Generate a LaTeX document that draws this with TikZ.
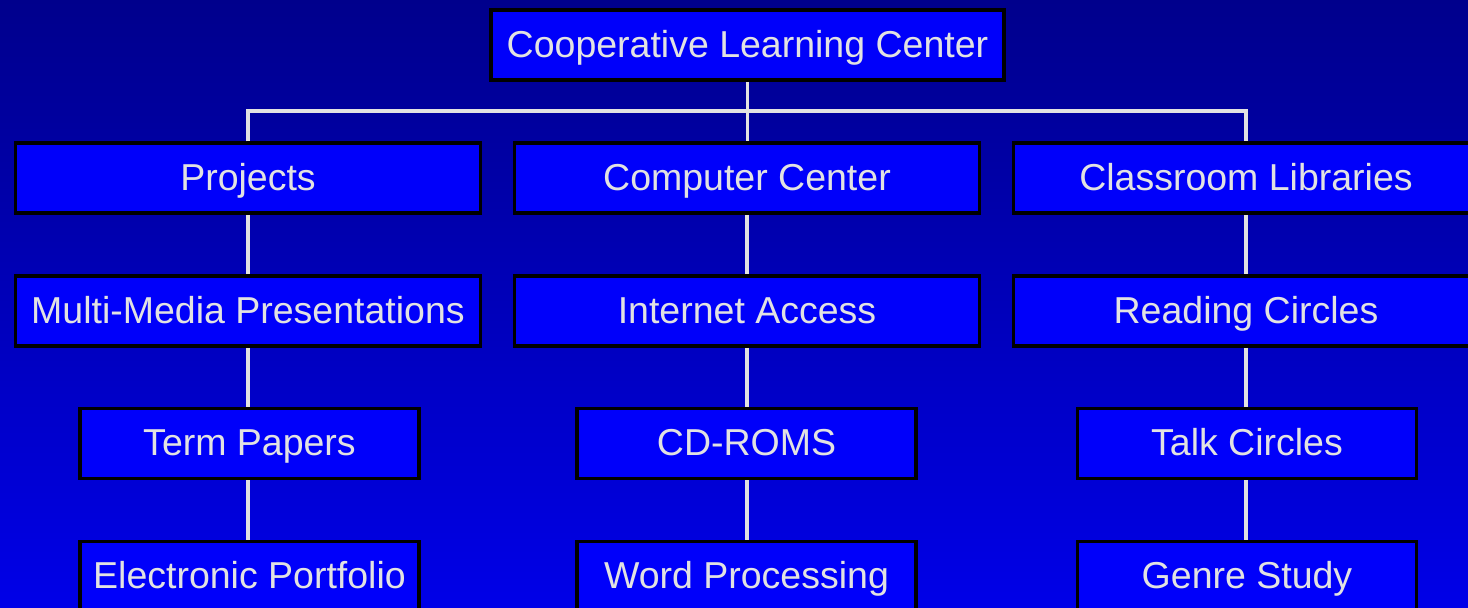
\documentclass[tikz,border=0pt]{standalone}
\usepackage{fontspec}
\setmainfont{Liberation Sans}
\definecolor{bgtop}{RGB}{0,0,140}
\definecolor{bgbot}{RGB}{0,0,232}
\definecolor{boxblue}{RGB}{0,0,250}
\definecolor{txt}{RGB}{226,226,226}
\tikzset{
  ocbox/.style={draw=black, line width=3.5pt, fill=boxblue, text=txt,
    inner sep=0pt, minimum height=70pt, text height=28pt, text depth=4pt,
    font=\fontsize{37.5}{42}\selectfont},
  widebox/.style={ocbox, minimum width=465pt},
  narrowbox/.style={ocbox, minimum width=339pt},
  link/.style={draw=txt, line width=3.5pt}
}
\begin{document}
\begin{tikzpicture}[x=1pt,y=-1pt]
\useasboundingbox (0,0) rectangle (1468,608);
\clip (0,0) rectangle (1468,608);
\shade[top color=bgtop, bottom color=bgbot] (0,0) rectangle (1468,608);
\coordinate (busR) at (1246,111);
% nodes
\node[ocbox, minimum width=513pt] (top) at (747.5,45) {Cooperative Learning Center};
\node[widebox] (proj) at (248,178) {Projects};
\node[widebox] (cc) at (747,178) {Computer Center};
\node[widebox] (clib) at (1246,178) {Classroom Libraries};
\node[widebox] (mmp) at (248,311) {Multi-Media Presentations};
\node[widebox] (ia) at (747,311) {Internet Access};
\node[widebox] (rc) at (1246,311) {Reading Circles};
\node[narrowbox] (tp) at (249.5,443.5) {Term Papers};
\node[narrowbox] (cd) at (746.5,443.5) {CD-ROMS};
\node[narrowbox] (tc) at (1247,443.5) {Talk Circles};
\node[narrowbox] (ep) at (249.5,576.5) {Electronic Portfolio};
\node[narrowbox] (wp) at (746.5,576.5) {Word Processing};
\node[narrowbox] (gs) at (1247,576.5) {Genre Study};
% connectors
\draw[link] (proj.north) |- (busR) -- (clib.north);
\draw[link] (top.south) -- (top.south |- cc.north);
\draw[link] (proj.south) -- (mmp.north);
\draw[link] (mmp.south) -- (mmp.south |- tp.north);
\draw[link] (mmp.south |- tp.south) -- (mmp.south |- ep.north);
\draw[link] (cc.south) -- (ia.north);
\draw[link] (ia.south) -- (ia.south |- cd.north);
\draw[link] (ia.south |- cd.south) -- (ia.south |- wp.north);
\draw[link] (clib.south) -- (rc.north);
\draw[link] (rc.south) -- (rc.south |- tc.north);
\draw[link] (rc.south |- tc.south) -- (rc.south |- gs.north);
\end{tikzpicture}
\end{document}
